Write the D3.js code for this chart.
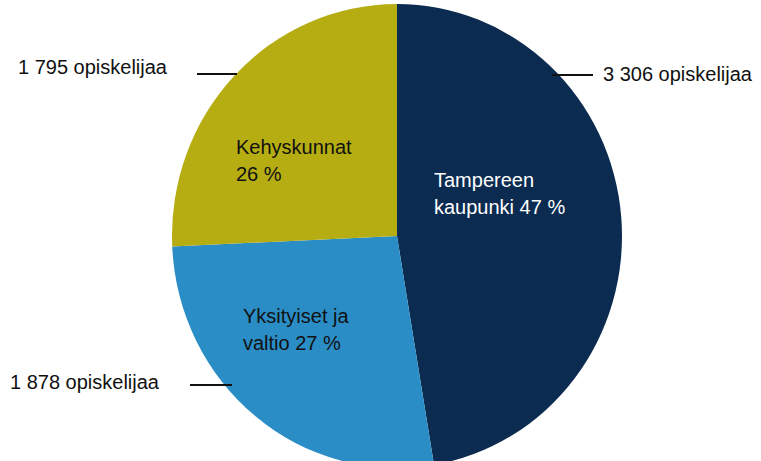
<!DOCTYPE html>
<html>
<head>
<meta charset="utf-8">
<script src="https://cdn.jsdelivr.net/npm/d3@7"></script>
<style>
    body { margin: 0; background: #fff; }
    text { font-family: "Liberation Sans", Arial, sans-serif; font-size: 20px; }
</style>
</head>
<body>
<script>
const width = 761;
const height = 461;

// data
const categories = ["Tampereen kaupunki", "Yksityiset ja valtio", "Kehyskunnat"];
const students = [3306, 1878, 1795];
const percentLabels = ["47 %", "27 %", "26 %"];
const countLabels = ["3 306 opiskelijaa", "1 878 opiskelijaa", "1 795 opiskelijaa"];

const colours = { "Tampereen kaupunki": "#0b2b50", "Yksityiset ja valtio": "#2a8dc5", "Kehyskunnat": "#b5ad12" };

// layout of the labels inside slices (two lines each)
const innerLabelPos = {
    "Tampereen kaupunki": { x: 434, y: 187, lines: ["Tampereen", "kaupunki 47 %"] },
    "Yksityiset ja valtio": { x: 243, y: 323, lines: ["Yksityiset ja", "valtio 27 %"] },
    "Kehyskunnat": { x: 236, y: 154, lines: ["Kehyskunnat", "26 %"] },
};
// outside count labels + leader lines
const outerLabelPos = {
    "Tampereen kaupunki": { tx: 603, ty: 81, anchor: "start", x1: 552, x2: 593, ly: 75 },
    "Yksityiset ja valtio": { tx: 10, ty: 389, anchor: "start", x1: 190, x2: 232, ly: 385 },
    "Kehyskunnat": { tx: 18, ty: 74, anchor: "start", x1: 197, x2: 237, ly: 74 },
};

const cx = 397, cy = 236, rx = 225, ry = 232;

const svg = d3
    .select("body")
    .append("svg")
    .attr("width", width)
    .attr("height", height);

const pieData = d3.pie().sort(null).value((d) => d.value)(
    categories.map((c, i) => ({ name: c, value: students[i], pct: percentLabels[i], count: countLabels[i] }))
);

const arc = d3.arc().innerRadius(0).outerRadius(rx);

svg.append("g")
    .attr("transform", `translate(${cx},${cy}) scale(1,${ry / rx})`)
    .selectAll("path")
    .data(pieData)
    .enter()
    .append("path")
    .attr("d", arc)
    .attr("fill", (d) => colours[d.data.name]);

// labels inside slices
pieData.forEach((d) => {
    const p = innerLabelPos[d.data.name];
    const t = svg.append("text")
        .attr("x", p.x)
        .attr("y", p.y)
        .attr("fill", d.data.name == "Tampereen kaupunki" ? "#fff" : "#111");
    p.lines.forEach((line, i) => {
        t.append("tspan").attr("x", p.x).attr("dy", i == 0 ? 0 : 27).text(line);
    });
});

// count labels outside with leader lines
pieData.forEach((d) => {
    const p = outerLabelPos[d.data.name];
    svg.append("line")
        .attr("x1", p.x1).attr("x2", p.x2)
        .attr("y1", p.ly).attr("y2", p.ly)
        .attr("stroke", "#111")
        .attr("stroke-width", 2);
    svg.append("text")
        .attr("x", p.tx)
        .attr("y", p.ty)
        .attr("text-anchor", p.anchor)
        .attr("fill", "#111")
        .text(d.data.count);
});
</script>
</body>
</html>
